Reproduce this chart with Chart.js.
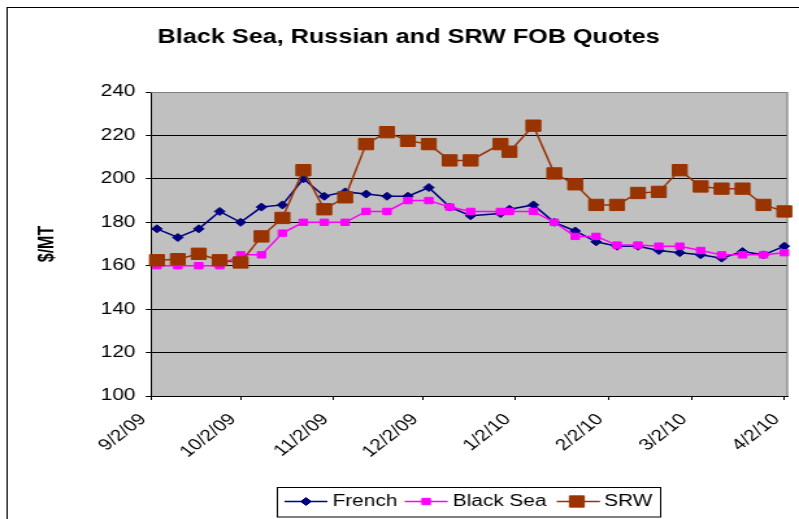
<!DOCTYPE html>
<html><head><meta charset="utf-8">
<script src="https://cdn.jsdelivr.net/npm/chart.js@4.4.1/dist/chart.umd.min.js"></script>
<style>
html,body{margin:0;padding:0;background:#fff;overflow:hidden;width:799px;height:519px;}
#wrap{position:absolute;left:0;top:0;width:615px;height:519px;transform:scaleX(1.2992);transform-origin:0 0;}
</style></head><body>
<div id="wrap"><canvas id="c"></canvas></div>
<script>
const chartTitle = 'Black Sea, Russian and SRW FOB Quotes';
const yAxisTitle = '$/MT';
// days after 9/2/09 for each weekly quote
const dayOffsets = [2,9,16,23,30,37,44,51,58,65,72,79,86,93,100,107,117,120,128,135,142,149,156,163,170,177,184,191,198,205,212];
const french   = [177,173,177,185,180,187,188,200,192,194,193,192,192,196,187,183,184,186,188,180,176,171,169,169,167,166,165,163.5,166.5,165,169];
const blackSea = [160,160,160,160,165,165,175,180,180,180,185,185,190,190,187,185,185,185,185,180,173.5,173.5,169.5,169.5,169,169,167,165,165,165,166];
const srw      = [162.5,163,165.5,162.5,161.5,173.5,182,204,186,191.5,216,221.5,217.5,216,208.5,208.5,216,212.5,224.5,202.5,197.5,188,188,193.5,194,204,196.5,195.5,195.5,188,185];
const xTickDays   = [0,30,61,91,122,153,181,212];
const xTickLabels = ['9/2/09','10/2/09','11/2/09','12/2/09','1/2/10','2/2/10','3/2/10','4/2/10'];
const yTicks = [100,120,140,160,180,200,220,240];

const FONT = '"Liberation Sans", Arial, sans-serif';
const pts = arr => arr.map((v, i) => ({x: dayOffsets[i], y: v}));

function drawMarker(ctx, style, r, x, y) {
  ctx.beginPath();
  if (style === 'rectRot') {
    ctx.moveTo(x - r, y); ctx.lineTo(x, y - r); ctx.lineTo(x + r, y); ctx.lineTo(x, y + r); ctx.closePath();
  } else {
    const h = r * Math.SQRT1_2;
    ctx.rect(x - h, y - h, 2 * h, 2 * h);
  }
  ctx.fill(); ctx.stroke();
}

const decor = {
  id: 'decor',
  beforeDraw(chart) {
    const {ctx, chartArea: a} = chart;
    ctx.save();
    ctx.fillStyle = '#fff';
    ctx.fillRect(0, 0, chart.width, chart.height);
    ctx.strokeStyle = '#000'; ctx.lineWidth = 1;
    ctx.strokeRect(5.5, 7.5, chart.width + 20, chart.height + 20);
    ctx.fillStyle = '#c0c0c0';
    ctx.fillRect(a.left, a.top, a.right - a.left, a.bottom - a.top);
    ctx.restore();
  },
  beforeDatasetsDraw(chart) {
    const {ctx, chartArea: a} = chart;
    ctx.save();
    ctx.strokeStyle = '#808080'; ctx.lineWidth = 1.2;
    ctx.beginPath();
    ctx.moveTo(a.left, a.top + 0.5); ctx.lineTo(a.right, a.top + 0.5); ctx.lineTo(a.right, a.bottom);
    ctx.stroke();
    ctx.restore();
  },
  afterDraw(chart) {
    const ctx = chart.ctx;
    ctx.save();
    // title
    ctx.fillStyle = '#000';
    ctx.font = 'bold 19.4px ' + FONT;
    ctx.textAlign = 'center'; ctx.textBaseline = 'middle';
    ctx.fillText(chartTitle, 314.6, 37.5);
    // legend
    ctx.strokeStyle = '#000'; ctx.lineWidth = 1;
    ctx.strokeRect(213.5, 487.5, 295, 29.5);
    const slots = [
      {l1: 219, l2: 252, m: 235.5, t: 256, r: 4},
      {l1: 311.5, l2: 344.6, m: 328, t: 348.5, r: 4.5},
      {l1: 428.5, l2: 461.8, m: 444, t: 465, r: 8}
    ];
    const ly = 501.5;
    chart.data.datasets.forEach((ds, i) => {
      const s = slots[i];
      ctx.strokeStyle = ds.borderColor; ctx.lineWidth = 1.5;
      ctx.beginPath(); ctx.moveTo(s.l1, ly); ctx.lineTo(s.l2, ly); ctx.stroke();
      ctx.fillStyle = ds.pointBackgroundColor; ctx.strokeStyle = ds.pointBorderColor; ctx.lineWidth = 1;
      drawMarker(ctx, ds.pointStyle, s.r, s.m, ly);
      ctx.fillStyle = '#000';
      ctx.font = '16px ' + FONT;
      ctx.textAlign = 'left'; ctx.textBaseline = 'middle';
      ctx.fillText(ds.label, s.t, ly);
    });
    ctx.restore();
  }
};

new Chart(document.getElementById('c'), {
  type: 'line',
  data: {
    datasets: [
      {label: 'French', data: pts(french), borderColor: '#000080', backgroundColor: '#000080',
       pointBackgroundColor: '#000080', pointBorderColor: '#000080', pointStyle: 'rectRot', pointRadius: 4,
       borderWidth: 1.5, pointBorderWidth: 1, order: 3, clip: false},
      {label: 'Black Sea', data: pts(blackSea), borderColor: '#ff00ff', backgroundColor: '#ff00ff',
       pointBackgroundColor: '#ff00ff', pointBorderColor: '#ff00ff', pointStyle: 'rect', pointRadius: 4.5,
       borderWidth: 1.5, pointBorderWidth: 1, order: 2, clip: false},
      {label: 'SRW', data: pts(srw), borderColor: '#993300', backgroundColor: '#993300',
       pointBackgroundColor: '#993300', pointBorderColor: '#993300', pointStyle: 'rect', pointRadius: 8,
       borderWidth: 1.5, pointBorderWidth: 1, order: 1, clip: false}
    ]
  },
  options: {
    responsive: true,
    maintainAspectRatio: false,
    animation: false,
    events: [],
    layout: {padding: {left: 0, right: 7.7, top: 92, bottom: 0}},
    elements: {line: {tension: 0}},
    plugins: {legend: {display: false}, title: {display: false}, tooltip: {enabled: false}},
    scales: {
      x: {
        type: 'linear', min: 0, max: 213,
        afterBuildTicks: s => { s.ticks = xTickDays.map(v => ({value: v})); },
        afterFit: s => { s.height = 123; s.paddingLeft = 0; s.paddingRight = 0; },
        grid: {drawOnChartArea: false, drawTicks: true, tickLength: 4, color: '#000'},
        border: {display: true, color: '#000', width: 1},
        ticks: {
          autoSkip: false, maxRotation: 45, minRotation: 45, padding: 10, labelOffset: -6,
          color: '#000', font: {family: FONT, size: 16},
          callback: v => { const i = xTickDays.indexOf(v); return i >= 0 ? xTickLabels[i] : ''; }
        }
      },
      y: {
        min: 100, max: 240,
        afterBuildTicks: s => { s.ticks = yTicks.map(v => ({value: v})); },
        afterFit: s => { s.width = 116.2; },
        grid: {color: '#000', lineWidth: 1, drawTicks: true, tickLength: 4},
        border: {display: true, color: '#000', width: 1},
        ticks: {padding: 8, color: '#000', font: {family: FONT, size: 16}},
        title: {display: true, text: yAxisTitle, color: '#000', font: {family: FONT, size: 16, weight: 'bold'}, padding: {top: 27, bottom: 0}}
      }
    }
  },
  plugins: [decor]
});
</script>
</body></html>
